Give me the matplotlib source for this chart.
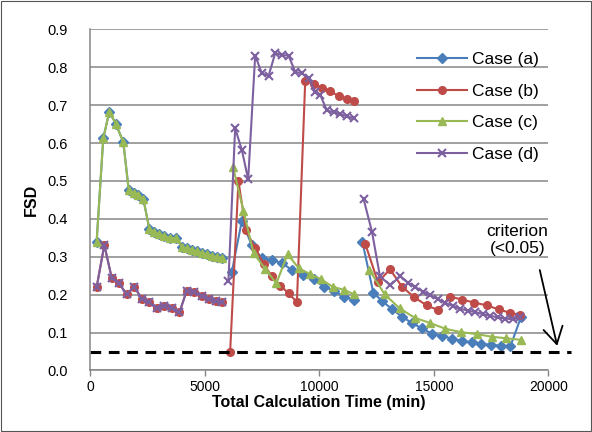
import numpy as np
import matplotlib
matplotlib.use("Agg")
from matplotlib import pyplot as plt
from matplotlib.patches import Rectangle

plt.rcParams["font.family"] = ["Liberation Sans", "DejaVu Sans"]

nan = np.nan

# Case (a): three runs separated by nan
time_a = [290, 580, 845, 1135, 1455, 1690, 1900, 2100, 2330, 2590, 2795, 3010,
          3245, 3495, 3740, 4005, 4220, 4440, 4660, 4875, 5095, 5310, 5530, 5750,
          nan,
          6190, 6624, 7060, 7497, 7955, 8390, 8830, 9280, 9753, 10189, 10625,
          11062, 11499,
          nan,
          11880, 12360, 12750, 13174, 13611, 14048, 14485, 14922, 15358, 15795,
          16232, 16669, 17075, 17512, 17935, 18341, 18800]
fsd_a = [0.340, 0.613, 0.683, 0.650, 0.602, 0.476, 0.469, 0.462, 0.452, 0.373,
         0.366, 0.360, 0.355, 0.350, 0.349, 0.327, 0.322, 0.319, 0.314, 0.311,
         0.307, 0.303, 0.300, 0.298,
         nan,
         0.261, 0.395, 0.330, 0.296, 0.291, 0.283, 0.264, 0.252, 0.241, 0.221,
         0.211, 0.195, 0.186,
         nan,
         0.340, 0.205, 0.183, 0.162, 0.142, 0.125, 0.111, 0.097, 0.091, 0.084,
         0.078, 0.074, 0.070, 0.068, 0.065, 0.064, 0.141]

# Case (b)
time_b = [291, 625, 946, 1266, 1601, 1936, 2256, 2577, 2911, 3246, 3566, 3901,
          4222, 4557, 4877, 5197, 5488, 5750,
          nan,
          6114, 6476, 6800, 7206, 7570, 7934, 8297, 8661, 9026, 9389, 9753,
          10117, 10480, 10843, 11207, 11529,
          nan,
          12009, 12563, 13086, 13611, 14150, 14680, 15195, 15700, 16240, 16760,
          17300, 17833, 18341, 18745]
fsd_b = [0.220, 0.331, 0.245, 0.230, 0.201, 0.221, 0.189, 0.180, 0.164, 0.171,
         0.164, 0.153, 0.211, 0.206, 0.197, 0.189, 0.184, 0.180,
         nan,
         0.050, 0.500, 0.371, 0.322, 0.282, 0.248, 0.224, 0.204, 0.180, 0.764,
         0.755, 0.746, 0.737, 0.724, 0.716, 0.711,
         nan,
         0.334, 0.233, 0.267, 0.221, 0.193, 0.172, 0.159, 0.195, 0.187, 0.179,
         0.172, 0.161, 0.152, 0.146]

# Case (c)
time_c = [290, 580, 845, 1135, 1455, 1690, 1900, 2100, 2330, 2590, 2795, 3010,
          3245, 3495, 3740, 4005, 4220, 4440, 4660, 4875, 5095, 5310, 5530, 5750,
          nan,
          6240, 6696, 7133, 7640, 8130, 8620, 9099, 9608, 10075, 10582, 11062,
          11529,
          nan,
          12184, 12852, 13508, 14164, 14849, 15503, 16200, 16870, 17530, 18150,
          18780]
fsd_c = [0.340, 0.613, 0.683, 0.650, 0.602, 0.476, 0.469, 0.462, 0.452, 0.373,
         0.366, 0.360, 0.355, 0.350, 0.349, 0.327, 0.322, 0.319, 0.314, 0.311,
         0.307, 0.303, 0.300, 0.298,
         nan,
         0.537, 0.421, 0.310, 0.268, 0.230, 0.307, 0.270, 0.254, 0.241, 0.221,
         0.213, 0.201,
         nan,
         0.266, 0.201, 0.164, 0.139, 0.125, 0.110, 0.101, 0.096, 0.089, 0.085,
         0.081]

# Case (d)
time_d = [291, 625, 946, 1266, 1601, 1936, 2256, 2577, 2911, 3246, 3566, 3901,
          4222, 4557, 4877, 5197, 5488, 5750,
          nan,
          6040, 6332, 6624, 6900, 7206, 7497, 7788, 8079, 8371, 8661, 8952, 9244,
          9535, 9826, 10044, 10336, 10625, 10900, 11200, 11500,
          nan,
          11936, 12301, 12650, 13100, 13540, 13858, 14193, 14528, 14848, 15168,
          15503, 15838, 16158, 16478, 16813, 17133, 17468, 17803, 18123, 18458,
          18778]
fsd_d = [0.220, 0.331, 0.245, 0.230, 0.201, 0.221, 0.189, 0.180, 0.164, 0.171,
         0.164, 0.153, 0.211, 0.206, 0.197, 0.189, 0.184, 0.180,
         nan,
         0.237, 0.639, 0.582, 0.504, 0.831, 0.784, 0.777, 0.837, 0.832, 0.831,
         0.788, 0.784, 0.771, 0.736, 0.727, 0.686, 0.681, 0.677, 0.671, 0.665,
         nan,
         0.452, 0.366, 0.248, 0.225, 0.249, 0.232, 0.220, 0.208, 0.198, 0.188,
         0.178, 0.170, 0.163, 0.158, 0.154, 0.149, 0.144, 0.140, 0.137, 0.135,
         0.140]

labels = ["Case (a)", "Case (b)", "Case (c)", "Case (d)"]
criterion = 0.05
x_ticks = [0, 5000, 10000, 15000, 20000]
y_ticks = [0.0, 0.1, 0.2, 0.3, 0.4, 0.5, 0.6, 0.7, 0.8, 0.9]

grid_col = "#868686"

fig = plt.figure(figsize=(5.92, 4.32), dpi=100)
ax = fig.add_axes([0.152, 0.1424, 0.7745, 0.7896])

ax.plot(time_a, fsd_a, color="#4A7EBB", lw=1.5, marker="D", ms=5.5,
        label=labels[0])
ax.plot(time_b, fsd_b, color="#BE4B48", lw=1.5, marker="o", ms=5.5,
        label=labels[1])
ax.plot(time_c, fsd_c, color="#98B954", lw=1.5, marker="^", ms=6,
        label=labels[2])
ax.plot(time_d, fsd_d, color="#7D60A0", lw=1.5, marker="x", ms=6, mew=1.5,
        label=labels[3])

# criterion line runs a bit past the plot area, like the drawn shape
ax.plot([0, 1.05], [criterion, criterion], color="black", lw=2.2,
        dashes=(3.5, 2.5), transform=ax.get_yaxis_transform(), clip_on=False)

ax.annotate("", xy=(20380, criterion + 0.015), xytext=(19620, 0.265),
            arrowprops=dict(arrowstyle="->,head_length=0.6,head_width=0.35",
                            lw=1.3, color="black", mutation_scale=20,
                            shrinkA=0, shrinkB=0),
            annotation_clip=False)
ax.text(18640, 0.345, "criterion\n(<0.05)", ha="center", va="center",
        fontsize=12.5, linespacing=1.15)

ax.set_xlim(0, 20000)
ax.set_ylim(0, 0.9)
ax.set_xticks(x_ticks)
ax.set_yticks(y_ticks)
ax.set_yticklabels(["%.1f" % v for v in y_ticks])
ax.tick_params(axis="x", length=4, color=grid_col, width=1, labelsize=10,
               pad=3)
ax.tick_params(axis="y", length=0, labelsize=10.5, pad=16)
ax.grid(axis="y", color=grid_col, lw=1.1)
ax.set_axisbelow(True)
for s in ["top", "right"]:
    ax.spines[s].set_visible(False)
for s in ["left", "bottom"]:
    ax.spines[s].set_color(grid_col)
    ax.spines[s].set_linewidth(1.1)

ax.set_xlabel("Total Calculation Time (min)", fontsize=11.5, fontweight="bold",
              labelpad=0.5)
ax.set_ylabel("FSD", fontsize=11.5, fontweight="bold", labelpad=6)

ax.legend(loc="upper left", bbox_to_anchor=(0.713, 0.933), frameon=False,
          fontsize=12.5, handlelength=2.9, handletextpad=0.3, labelspacing=0.94,
          borderpad=0, borderaxespad=0)

fig.patches.append(Rectangle((0.002, 0.002), 0.996, 0.996, transform=fig.transFigure,
                             fill=False, edgecolor="#555555", lw=0.8))

fig.savefig("out.png", dpi=100)
